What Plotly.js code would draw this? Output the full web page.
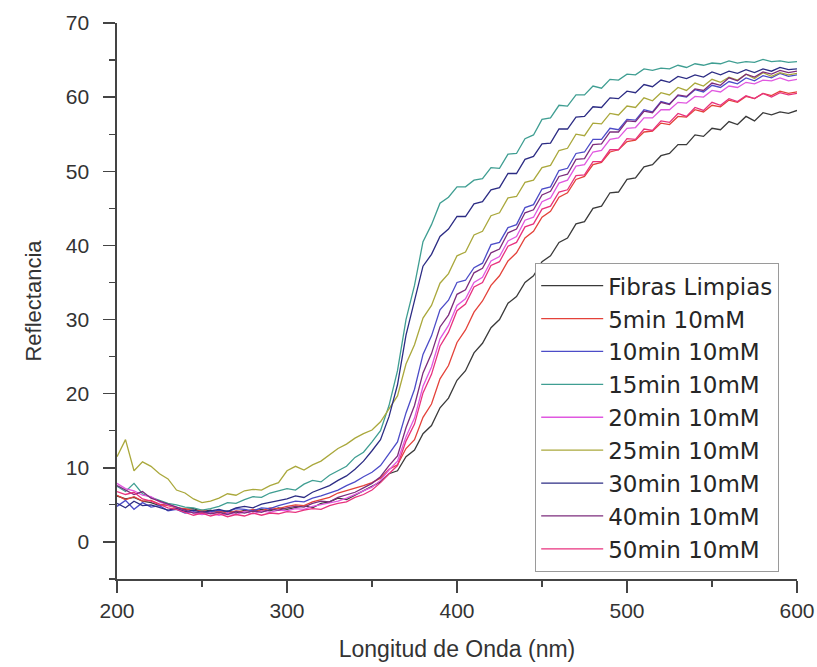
<!DOCTYPE html>
<html>
<head>
<meta charset="utf-8">
<script src="https://cdn.plot.ly/plotly-3.0.1.min.js"></script>
<style>html,body{margin:0;padding:0;background:#fff;}#chart{width:817px;height:667px;}</style>
</head>
<body>
<div id="chart"></div>
<script>
const wavelength = [200,205,210,215,220,225,230,235,240,245,250,255,260,265,270,275,280,285,290,295,300,305,310,315,320,325,330,335,340,345,350,355,360,365,370,375,380,385,390,395,400,405,410,415,420,425,430,435,440,445,450,455,460,465,470,475,480,485,490,495,500,505,510,515,520,525,530,535,540,545,550,555,560,565,570,575,580,585,590,595,600];

const seriesNames = ["Fibras Limpias","5min 10mM","10min 10mM","15min 10mM","20min 10mM","25min 10mM","30min 10mM","40min 10mM","50min 10mM"];

const fibrasLimpias = [6.2,5.8,6.0,5.5,5.3,4.9,5.1,4.6,4.4,4.5,4.1, 4.3,4.0,4.2,3.9,4.3,4.1,4.4,4.2,4.6,4.4, 4.7,4.9,4.6,5.2,5.4,5.9,5.7,6.3,6.8,7.4,
  8.1,9.2,9.6,11.5,12.4,14.6,15.7,18.1,19.4,21.8, 23.1,25.5,26.8,28.9,30.0,32.2,33.1,35.0,35.9,37.8, 38.6,40.4,41.0,42.9,43.2,45.0,45.3,47.1,47.2,48.9, 49.1,50.6,50.9,52.1,52.4,53.6,53.6,54.9,54.7,55.8, 55.6,56.7,56.3,57.4,56.8,57.9,57.6,58.0,57.8,58.2];

const min5 = [6.3,5.7,6.1,5.5,5.6,5.1,4.9,4.6,4.5,4.2,4.3, 4.0,4.2,3.9,4.2,4.1,4.4,4.2,4.6,4.5,4.8, 5.0,4.9,5.4,5.7,6.0,6.6,6.9,7.2,7.6,8.0,
  8.6,9.8,10.4,12.6,13.8,16.8,18.6,22.0,23.8,26.9, 28.6,31.0,32.5,34.6,35.9,37.9,39.0,41.0,41.9,43.8, 44.6,46.5,47.1,48.9,49.3,50.9,51.2,52.6,52.9,54.0, 54.2,55.3,55.4,56.5,56.3,57.4,57.3,58.3,58.0,58.9, 58.7,59.6,59.3,60.1,59.8,60.5,60.2,60.8,60.5,60.7];

const min10 = [4.8,5.6,4.4,5.3,4.7,4.9,4.2,4.4,3.9,4.1,3.8, 4.0,4.3,4.1,4.5,4.4,4.2,4.6,4.5,4.9,5.2, 5.5,5.4,5.9,6.2,6.6,7.0,7.6,8.1,8.8,9.4,
  10.3,11.9,13.5,17.4,20.6,25.3,27.8,31.3,32.6,35.0, 35.3,37.0,37.6,40.1,40.4,42.4,42.8,45.1,45.5,47.6, 47.9,50.1,50.4,52.4,52.6,54.3,54.3,55.8,55.6,57.0, 56.9,58.3,58.0,59.4,59.1,60.2,60.0,61.0,60.7,61.6, 61.3,62.1,61.8,62.6,62.2,62.9,62.6,63.2,62.8,63.0];

const min15 = [7.5,6.8,7.9,6.5,6.0,5.6,5.2,5.0,4.7,4.6,4.3, 4.5,4.8,5.3,5.2,5.7,6.1,6.0,6.6,6.9,7.2, 7.0,7.8,8.3,8.1,9.0,9.6,10.2,11.4,12.1,13.5,
  15.0,18.4,23.1,30.0,34.6,40.5,42.8,45.7,46.5,47.9, 47.9,48.8,49.0,50.5,50.4,52.3,52.4,54.4,54.9,57.0, 57.2,58.9,58.8,60.3,60.3,61.5,61.2,62.4,62.3,63.1, 63.0,63.8,63.6,63.9,63.8,64.3,64.0,64.5,64.3,64.6, 64.5,64.9,64.6,64.8,64.7,65.1,64.8,64.9,64.7,64.8];

const min20 = [7.9,7.2,6.9,6.3,6.1,5.4,5.0,4.7,4.2,4.0,3.7, 3.9,3.6,3.9,3.7,4.1,3.8,4.2,4.0,4.3,4.2, 4.5,4.4,4.8,5.0,5.3,5.5,5.9,6.4,6.8,7.4,
  8.3,9.7,10.9,14.2,16.7,21.0,23.6,27.4,29.2,31.9, 32.8,35.0,35.7,37.9,38.5,40.6,41.2,43.4,43.8,45.9, 46.4,48.4,48.8,50.7,50.9,52.6,52.8,54.3,54.5,55.8, 55.9,57.2,57.2,58.3,58.3,59.3,59.2,60.1,60.0,60.9, 60.7,61.5,61.3,62.0,61.8,62.3,62.2,62.6,62.2,62.4];

const min25 = [11.5,13.8,9.6,10.8,10.2,9.2,8.5,7.0,6.6,5.8,5.3, 5.5,5.9,6.5,6.3,6.9,7.1,7.0,7.6,8.0,9.6, 10.2,9.7,10.4,10.9,11.8,12.6,13.2,14.0,14.6,15.1,
  16.2,17.9,19.7,24.0,26.6,30.2,31.9,34.9,36.2,38.6, 39.1,41.4,41.9,44.0,44.4,46.4,46.6,48.5,48.8,50.5, 50.8,52.8,53.1,55.0,54.8,56.5,56.4,57.8,57.6,58.8, 58.6,59.9,59.5,60.6,60.3,61.3,60.9,61.9,61.5,62.4, 62.0,62.7,62.3,63.1,62.5,63.3,62.8,63.3,63.0,63.2];

const min30 = [5.2,4.6,5.5,4.9,5.0,4.6,4.3,4.5,4.1,4.3,4.0, 4.2,4.4,4.1,4.6,4.8,4.6,5.1,5.3,5.6,5.8, 6.2,6.0,6.7,7.1,7.6,8.3,8.9,9.8,10.9,12.3,
  13.8,16.9,21.2,27.9,32.4,37.2,38.8,41.2,42.2,43.9, 43.9,45.6,45.9,47.5,47.8,49.7,49.7,51.6,52.0,53.7, 53.8,55.7,55.7,57.3,57.4,58.7,58.6,59.9,59.8,60.8, 60.6,61.7,61.4,62.3,62.0,62.8,62.5,63.0,62.7,63.4, 63.0,63.5,63.2,63.7,63.3,63.8,63.5,64.0,63.7,63.8];

const min40 = [7.6,7.0,6.4,6.8,5.9,5.5,5.1,4.6,4.3,3.9,4.1, 3.8,4.0,3.7,4.1,3.9,4.2,4.0,4.4,4.3,4.6, 4.8,4.7,5.2,5.5,5.4,6.0,6.3,6.7,7.3,7.9,
  8.8,10.3,11.6,15.4,18.4,22.8,25.4,29.0,30.6,33.4, 34.0,36.3,36.9,39.0,39.5,41.7,42.2,44.4,44.8,46.8, 47.3,49.3,49.6,51.6,51.7,53.6,53.7,55.3,55.3,56.8, 56.7,58.1,57.9,59.3,59.0,60.3,60.1,61.1,60.9,61.9, 61.6,62.6,62.2,63.1,62.7,63.4,63.1,63.6,63.3,63.5];

const min50 = [6.8,6.4,6.7,5.8,5.5,5.0,4.6,4.4,4.0,3.6,3.9, 3.5,3.8,3.4,3.7,3.5,3.9,3.6,3.9,3.8,4.1, 4.0,4.3,4.5,4.4,4.9,5.2,5.4,6.0,6.4,7.0,
  8.0,9.2,10.3,13.6,15.9,20.1,22.6,26.4,28.3,31.2, 32.1,34.4,35.0,37.3,37.8,39.9,40.4,42.5,42.9,44.9, 45.3,47.2,47.5,49.4,49.5,51.3,51.3,52.9,52.9,54.4, 54.3,55.7,55.5,56.8,56.6,57.8,57.4,58.6,58.2,59.3, 58.9,59.8,59.4,60.2,59.8,60.5,60.0,60.6,60.3,60.5];

const seriesValues = [fibrasLimpias, min5, min10, min15, min20, min25, min30, min40, min50];
const seriesColors = ["#3a3a3a","#e4423a","#4c4cc8","#3f9e92","#e058e0","#aaa83c","#2c2c84","#7c2c7c","#e8327e"];

const traces = seriesNames.map((name, i) => ({
  x: wavelength,
  y: seriesValues[i],
  type: "scatter",
  mode: "lines",
  name: name,
  legendgroup: "g" + i,
  line: {color: seriesColors[i], width: 1.3}
}));

const arial = "Arial, 'Liberation Sans', sans-serif";
const wide = "'DejaVu Sans', Arial, sans-serif";

const layout = {
  width: 817,
  height: 667,
  margin: {l: 117, r: 20, t: 23, b: 88},
  paper_bgcolor: "#ffffff",
  plot_bgcolor: "#ffffff",
  font: {family: arial, color: "#333"},
  showlegend: true,
  legend: {
    x: 0.615, y: 0.568, xanchor: "left", yanchor: "top",
    bgcolor: "#ffffff", bordercolor: "#9a9a9a", borderwidth: 1,
    font: {family: wide, size: 23, color: "#262626"},
    tracegroupgap: 0,
    itemwidth: 62
  },
  xaxis: {
    range: [200, 600],
    tick0: 200, dtick: 100,
    ticks: "outside", ticklen: 12, tickwidth: 1.5, tickcolor: "#444",
    minor: {dtick: 50, ticks: "outside", ticklen: 6, tickwidth: 1.2, tickcolor: "#444"},
    showline: true, linecolor: "#444", linewidth: 1.6,
    showgrid: false, zeroline: false,
    tickfont: {family: arial, size: 21, color: "#333"},
    title: {text: "Longitud de Onda (nm)", font: {family: arial, size: 23, color: "#333"}, standoff: 20}
  },
  yaxis: {
    range: [-5, 70],
    tick0: 0, dtick: 10,
    ticks: "outside", ticklen: 12, tickwidth: 1.5, tickcolor: "#444",
    minor: {dtick: 5, ticks: "outside", ticklen: 6, tickwidth: 1.2, tickcolor: "#444"},
    showline: true, linecolor: "#444", linewidth: 1.6,
    showgrid: false, zeroline: false,
    ticklabelstandoff: 10,
    tickfont: {family: arial, size: 21, color: "#333"},
    title: {text: "Reflectancia", font: {family: arial, size: 22, color: "#333"}, standoff: 18}
  }
};

Plotly.newPlot("chart", traces, layout, {displayModeBar: false, staticPlot: true});
</script>
</body>
</html>
